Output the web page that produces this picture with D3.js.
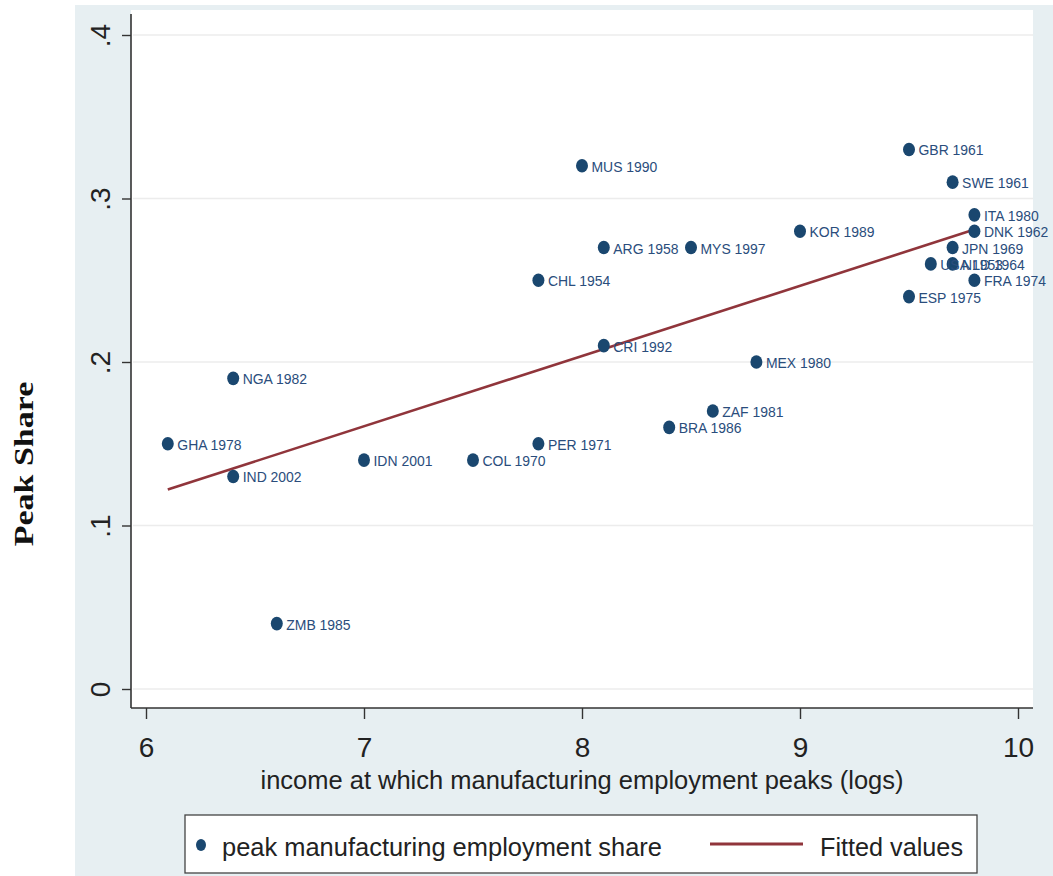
<!DOCTYPE html>
<html>
<head>
<meta charset="utf-8">
<script src="https://cdn.jsdelivr.net/npm/d3@7"></script>
<style>
  html, body { margin: 0; padding: 0; background: #ffffff; }
  svg { display: block; }
</style>
</head>
<body>
<svg id="chart" width="1053" height="876"></svg>
<script>
// ---- data ----
const countries = ["GHA 1978","IND 2002","NGA 1982","ZMB 1985","IDN 2001","COL 1970","PER 1971","CHL 1954",
  "MUS 1990","ARG 1958","CRI 1992","MYS 1997","BRA 1986","ZAF 1981","MEX 1980","KOR 1989",
  "GBR 1961","SWE 1961","ITA 1980","DNK 1962","JPN 1969","USA 1953","NLD 1964","FRA 1974","ESP 1975"];
const income = [6.1,6.4,6.4,6.6,7.0,7.5,7.8,7.8,
  8.0,8.1,8.1,8.5,8.4,8.6,8.8,9.0,
  9.5,9.7,9.8,9.8,9.7,9.6,9.7,9.8,9.5];
const peakShare = [0.15,0.13,0.19,0.04,0.14,0.14,0.15,0.25,
  0.32,0.27,0.21,0.27,0.16,0.17,0.20,0.28,
  0.33,0.31,0.29,0.28,0.27,0.26,0.26,0.25,0.24];
const fitX = [6.1, 9.8];
const fitY = [0.122, 0.281];
const xTicks = [6,7,8,9,10];
const xTickLabels = ["6","7","8","9","10"];
const yTicks = [0,0.1,0.2,0.3,0.4];
const yTickLabels = ["0",".1",".2",".3",".4"];
const xTitle = "income at which manufacturing employment peaks (logs)";
const yTitle = "Peak Share";
const legendLabels = ["peak manufacturing employment share","Fitted values"];

// ---- layout ----
const navy = "#1a476f", red = "#90353b";
const svg = d3.select("#chart");
const x = d3.scaleLinear().domain([6,10]).range([146,1018]);
const y = d3.scaleLinear().domain([0,0.4]).range([689,35]);
const plotL = 131, plotR = 1033, plotT = 10, plotB = 708;

// graph region background
svg.append("rect").attr("x",75).attr("y",5).attr("width",978).attr("height",871).attr("fill","#e7eff2");
// plot region
svg.append("rect").attr("x",plotL).attr("y",plotT).attr("width",plotR-plotL).attr("height",plotB-plotT).attr("fill","#ffffff");

// gridlines
svg.append("g").selectAll("line").data(yTicks).join("line")
  .attr("x1",plotL+2).attr("x2",plotR).attr("y1",d=>y(d)).attr("y2",d=>y(d))
  .attr("stroke","#ececec").attr("stroke-width",1.5);

// y axis
const yAxis = svg.append("g").attr("transform",`translate(${plotL},0)`)
  .call(d3.axisLeft(y).tickValues(yTicks).tickFormat((d,i)=>yTickLabels[i]).tickSize(9).tickPadding(0));
yAxis.select(".domain").attr("d",`M0,14V${plotB}`).attr("stroke","#333").attr("stroke-width",1.6);
yAxis.selectAll(".tick line").attr("stroke","#333").attr("stroke-width",1.4);
yAxis.selectAll(".tick text")
  .attr("x",null).attr("dy",null)
  .attr("transform","translate(-21,0) rotate(-90)")
  .attr("text-anchor","middle")
  .attr("font-family","Liberation Sans, Arial, sans-serif").attr("font-size",28).attr("fill","#222");

// x axis
const xAxis = svg.append("g").attr("transform",`translate(0,${plotB})`)
  .call(d3.axisBottom(x).tickValues(xTicks).tickFormat((d,i)=>xTickLabels[i]).tickSize(11).tickPadding(0));
xAxis.select(".domain").attr("d",`M${plotL},0H${plotR}`).attr("stroke","#333").attr("stroke-width",1.6);
xAxis.selectAll(".tick line").attr("stroke","#333").attr("stroke-width",1.4);
xAxis.selectAll(".tick text")
  .attr("y",49).attr("dy",null)
  .attr("font-family","Liberation Sans, Arial, sans-serif").attr("font-size",28).attr("fill","#222");

// axis titles
svg.append("text").attr("x",582).attr("y",789).attr("text-anchor","middle")
  .attr("font-family","Liberation Sans, Arial, sans-serif").attr("font-size",26).attr("fill","#222")
  .attr("textLength",643).attr("lengthAdjust","spacingAndGlyphs").text(xTitle);
svg.append("text").attr("transform","translate(33,464) rotate(-90) scale(1,0.8)").attr("text-anchor","middle")
  .attr("font-family","Liberation Serif, Times New Roman, serif").attr("font-weight","bold")
  .attr("font-size",34).attr("fill","#111").text(yTitle);

// fitted line
svg.append("line")
  .attr("x1",x(fitX[0])).attr("y1",y(fitY[0])).attr("x2",x(fitX[1])).attr("y2",y(fitY[1]))
  .attr("stroke",red).attr("stroke-width",2.6);

// points
const pts = countries.map((c,i)=>({c, xv: income[i], yv: peakShare[i]}));
svg.append("g").selectAll("ellipse").data(pts).join("ellipse")
  .attr("cx",d=>x(d.xv)).attr("cy",d=>y(d.yv)).attr("rx",6).attr("ry",6.8).attr("fill",navy);
svg.append("g").selectAll("text").data(pts).join("text")
  .attr("transform",d=>`translate(${x(d.xv)+9.5},${y(d.yv)+6}) scale(0.9,1)`)
  .attr("font-family","Liberation Sans, Arial, sans-serif").attr("font-size",15.5).attr("fill","#2a4d7c")
  .text(d=>d.c);

// legend
const lg = svg.append("g");
lg.append("rect").attr("x",185).attr("y",815).attr("width",792).attr("height",58)
  .attr("fill","#ffffff").attr("stroke","#444").attr("stroke-width",1.3);
lg.append("ellipse").attr("cx",201).attr("cy",845).attr("rx",5).attr("ry",6).attr("fill",navy);
lg.append("text").attr("x",222).attr("y",856)
  .attr("font-family","Liberation Sans, Arial, sans-serif").attr("font-size",26).attr("fill","#222")
  .attr("textLength",440).attr("lengthAdjust","spacingAndGlyphs").text(legendLabels[0]);
lg.append("line").attr("x1",710).attr("x2",803).attr("y1",844).attr("y2",844)
  .attr("stroke",red).attr("stroke-width",3);
lg.append("text").attr("x",820).attr("y",856)
  .attr("font-family","Liberation Sans, Arial, sans-serif").attr("font-size",26).attr("fill","#222")
  .attr("textLength",143).attr("lengthAdjust","spacingAndGlyphs").text(legendLabels[1]);
</script>
</body>
</html>
